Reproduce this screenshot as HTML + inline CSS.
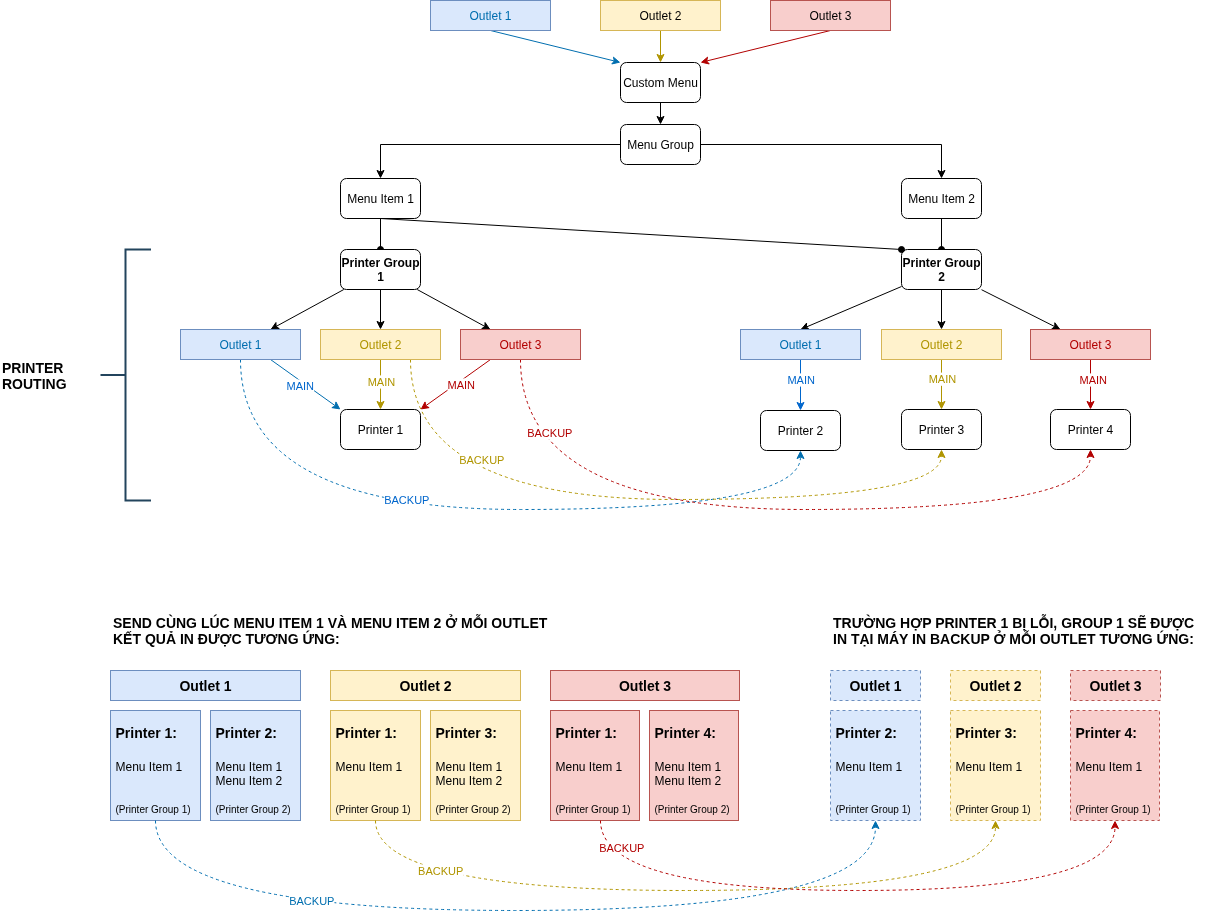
<!DOCTYPE html>
<html><head><meta charset="utf-8"><style>
html,body{margin:0;padding:0;background:#fff;width:1211px;height:912px;overflow:hidden}
svg{display:block;font-family:"Liberation Sans", sans-serif;will-change:transform}
</style></head><body>
<svg width="1211" height="912" viewBox="0 0 1211 912">
<path d="M490.50 30.50 L614.32 60.98" fill="none" stroke="#006EAF" stroke-width="1"/>
<path d="M619.41 62.23L611.78 63.96L614.32 60.98L613.45 57.16Z" fill="#006EAF" stroke="#006EAF" stroke-miterlimit="10"/>
<path d="M660.50 30.50 L660.50 56.13" fill="none" stroke="#B09500" stroke-width="1"/>
<path d="M660.50 61.38L657.00 54.38L660.50 56.13L664.00 54.38Z" fill="#B09500" stroke="#B09500" stroke-miterlimit="10"/>
<path d="M830.50 30.50 L706.68 60.98" fill="none" stroke="#B20000" stroke-width="1"/>
<path d="M701.59 62.23L707.55 57.16L706.68 60.98L709.22 63.96Z" fill="#B20000" stroke="#B20000" stroke-miterlimit="10"/>
<path d="M660.50 102.50 L660.50 118.13" fill="none" stroke="#000" stroke-width="1"/>
<path d="M660.50 123.38L657.00 116.38L660.50 118.13L664.00 116.38Z" fill="#000" stroke="#000" stroke-miterlimit="10"/>
<path d="M620.50 144.50 L380.50 144.50 L380.50 172.13" fill="none" stroke="#000" stroke-width="1"/>
<path d="M380.50 177.38L377.00 170.38L380.50 172.13L384.00 170.38Z" fill="#000" stroke="#000" stroke-miterlimit="10"/>
<path d="M700.50 144.50 L941.50 144.50 L941.50 172.13" fill="none" stroke="#000" stroke-width="1"/>
<path d="M941.50 177.38L938.00 170.38L941.50 172.13L945.00 170.38Z" fill="#000" stroke="#000" stroke-miterlimit="10"/>
<path d="M380.50 218.50 L380.50 249.50" fill="none" stroke="#000" stroke-width="1"/>
<circle cx="380.5" cy="249.5" r="3" fill="#000" stroke="#000"/>
<path d="M941.50 218.50 L941.50 249.50" fill="none" stroke="#000" stroke-width="1"/>
<circle cx="941.5" cy="249.5" r="3" fill="#000" stroke="#000"/>
<rect x="430.5" y="0.5" width="120" height="30" fill="#dae8fc" stroke="#6c8ebf"/>
<text x="490.5" y="19.8" font-size="12" fill="#006EAF" text-anchor="middle">Outlet 1</text>
<rect x="600.5" y="0.5" width="120" height="30" fill="#fff2cc" stroke="#d6b656"/>
<text x="660.5" y="19.8" font-size="12" fill="#000" text-anchor="middle">Outlet 2</text>
<rect x="770.5" y="0.5" width="120" height="30" fill="#f8cecc" stroke="#b85450"/>
<text x="830.5" y="19.8" font-size="12" fill="#000" text-anchor="middle">Outlet 3</text>
<rect x="620.5" y="62.5" width="80" height="40" rx="6" ry="6" fill="#fff" stroke="#000"/>
<text x="660.5" y="86.8" font-size="12" fill="#000" text-anchor="middle">Custom Menu</text>
<rect x="620.5" y="124.5" width="80" height="40" rx="6" ry="6" fill="#fff" stroke="#000"/>
<text x="660.5" y="148.8" font-size="12" fill="#000" text-anchor="middle">Menu Group</text>
<rect x="340.5" y="178.5" width="80" height="40" rx="6" ry="6" fill="#fff" stroke="#000"/>
<text x="380.5" y="202.8" font-size="12" fill="#000" text-anchor="middle">Menu Item 1</text>
<rect x="901.5" y="178.5" width="80" height="40" rx="6" ry="6" fill="#fff" stroke="#000"/>
<text x="941.5" y="202.8" font-size="12" fill="#000" text-anchor="middle">Menu Item 2</text>
<rect x="340.5" y="249.5" width="80" height="40" rx="6" ry="6" fill="#fff" stroke="#000"/>
<text x="380.5" y="266.8" font-size="12" font-weight="bold" fill="#000" text-anchor="middle">Printer Group</text>
<text x="380.5" y="281" font-size="12" font-weight="bold" fill="#000" text-anchor="middle">1</text>
<rect x="901.5" y="249.5" width="80" height="40" rx="6" ry="6" fill="#fff" stroke="#000"/>
<text x="941.5" y="266.8" font-size="12" font-weight="bold" fill="#000" text-anchor="middle">Printer Group</text>
<text x="941.5" y="281" font-size="12" font-weight="bold" fill="#000" text-anchor="middle">2</text>
<path d="M380.50 218.50 L901.50 249.50" fill="none" stroke="#000" stroke-width="1"/>
<circle cx="901.5" cy="249.5" r="3" fill="#000" stroke="#000"/>
<path d="M343.80 289.50 L276.09 326.45" fill="none" stroke="#000" stroke-width="1"/>
<path d="M271.48 328.96L275.95 322.54L276.09 326.45L279.30 328.68Z" fill="#000" stroke="#000" stroke-miterlimit="10"/>
<path d="M380.50 289.50 L380.50 323.13" fill="none" stroke="#000" stroke-width="1"/>
<path d="M380.50 328.38L377.00 321.38L380.50 323.13L384.00 321.38Z" fill="#000" stroke="#000" stroke-miterlimit="10"/>
<path d="M417.20 289.50 L484.91 326.45" fill="none" stroke="#000" stroke-width="1"/>
<path d="M489.52 328.96L481.70 328.68L484.91 326.45L485.05 322.54Z" fill="#000" stroke="#000" stroke-miterlimit="10"/>
<path d="M901.50 286.50 L806.36 327.01" fill="none" stroke="#000" stroke-width="1"/>
<path d="M801.53 329.06L806.60 323.10L806.36 327.01L809.34 329.54Z" fill="#000" stroke="#000" stroke-miterlimit="10"/>
<path d="M941.50 289.50 L941.50 323.13" fill="none" stroke="#000" stroke-width="1"/>
<path d="M941.50 328.38L938.00 321.38L941.50 323.13L945.00 321.38Z" fill="#000" stroke="#000" stroke-miterlimit="10"/>
<path d="M981.50 289.70 L1054.81 326.63" fill="none" stroke="#000" stroke-width="1"/>
<path d="M1059.50 329.00L1051.68 328.97L1054.81 326.63L1054.82 322.72Z" fill="#000" stroke="#000" stroke-miterlimit="10"/>
<path d="M240.5 359.5 Q240.5 509.5 520.5 509.5 Q800.5 509.5 800.50 456.87" fill="none" stroke="#006EAF" stroke-dasharray="3 3"/>
<path d="M800.50 451.62L804.00 458.62L800.50 456.87L797.00 458.62Z" fill="#006EAF" stroke="#006EAF" stroke-miterlimit="10"/>
<path d="M410.5 359.5 Q410.5 499.5 676.0 499.5 Q941.5 499.5 941.50 455.87" fill="none" stroke="#B09500" stroke-dasharray="3 3"/>
<path d="M941.50 450.62L945.00 457.62L941.50 455.87L938.00 457.62Z" fill="#B09500" stroke="#B09500" stroke-miterlimit="10"/>
<path d="M520.5 359.5 Q520.5 509.5 805.5 509.5 Q1090.5 509.5 1090.50 455.87" fill="none" stroke="#B20000" stroke-dasharray="3 3"/>
<path d="M1090.50 450.62L1094.00 457.62L1090.50 455.87L1087.00 457.62Z" fill="#B20000" stroke="#B20000" stroke-miterlimit="10"/>
<path d="M270.50 359.50 L335.32 405.80" fill="none" stroke="#006EAF" stroke-width="1"/>
<path d="M339.59 408.85L331.86 407.63L335.32 405.80L335.93 401.93Z" fill="#006EAF" stroke="#006EAF" stroke-miterlimit="10"/>
<path d="M380.50 359.50 L380.50 403.13" fill="none" stroke="#B09500" stroke-width="1"/>
<path d="M380.50 408.38L377.00 401.38L380.50 403.13L384.00 401.38Z" fill="#B09500" stroke="#B09500" stroke-miterlimit="10"/>
<path d="M490.50 359.50 L425.68 405.80" fill="none" stroke="#B20000" stroke-width="1"/>
<path d="M421.41 408.85L425.07 401.93L425.68 405.80L429.14 407.63Z" fill="#B20000" stroke="#B20000" stroke-miterlimit="10"/>
<path d="M800.50 359.50 L800.50 404.13" fill="none" stroke="#0066CC" stroke-width="1"/>
<path d="M800.50 409.38L797.00 402.38L800.50 404.13L804.00 402.38Z" fill="#0066CC" stroke="#0066CC" stroke-miterlimit="10"/>
<path d="M941.50 359.50 L941.50 403.13" fill="none" stroke="#B09500" stroke-width="1"/>
<path d="M941.50 408.38L938.00 401.38L941.50 403.13L945.00 401.38Z" fill="#B09500" stroke="#B09500" stroke-miterlimit="10"/>
<path d="M1090.50 359.50 L1090.50 403.13" fill="none" stroke="#B20000" stroke-width="1"/>
<path d="M1090.50 408.38L1087.00 401.38L1090.50 403.13L1094.00 401.38Z" fill="#B20000" stroke="#B20000" stroke-miterlimit="10"/>
<rect x="180.5" y="329.5" width="120" height="30" fill="#dae8fc" stroke="#6c8ebf"/>
<text x="240.5" y="348.8" font-size="12" fill="#006EAF" text-anchor="middle">Outlet 1</text>
<rect x="320.5" y="329.5" width="120" height="30" fill="#fff2cc" stroke="#d6b656"/>
<text x="380.5" y="348.8" font-size="12" fill="#B09500" text-anchor="middle">Outlet 2</text>
<rect x="460.5" y="329.5" width="120" height="30" fill="#f8cecc" stroke="#b85450"/>
<text x="520.5" y="348.8" font-size="12" fill="#B20000" text-anchor="middle">Outlet 3</text>
<rect x="740.5" y="329.5" width="120" height="30" fill="#dae8fc" stroke="#6c8ebf"/>
<text x="800.5" y="348.8" font-size="12" fill="#006EAF" text-anchor="middle">Outlet 1</text>
<rect x="881.5" y="329.5" width="120" height="30" fill="#fff2cc" stroke="#d6b656"/>
<text x="941.5" y="348.8" font-size="12" fill="#B09500" text-anchor="middle">Outlet 2</text>
<rect x="1030.5" y="329.5" width="120" height="30" fill="#f8cecc" stroke="#b85450"/>
<text x="1090.5" y="348.8" font-size="12" fill="#B20000" text-anchor="middle">Outlet 3</text>
<rect x="340.5" y="409.5" width="80" height="40" rx="6" ry="6" fill="#fff" stroke="#000"/>
<text x="380.5" y="433.8" font-size="12" fill="#000" text-anchor="middle">Printer 1</text>
<rect x="760.5" y="410.5" width="80" height="40" rx="6" ry="6" fill="#fff" stroke="#000"/>
<text x="800.5" y="434.8" font-size="12" fill="#000" text-anchor="middle">Printer 2</text>
<rect x="901.5" y="409.5" width="80" height="40" rx="6" ry="6" fill="#fff" stroke="#000"/>
<text x="941.5" y="433.8" font-size="12" fill="#000" text-anchor="middle">Printer 3</text>
<rect x="1050.5" y="409.5" width="80" height="40" rx="6" ry="6" fill="#fff" stroke="#000"/>
<text x="1090.5" y="433.8" font-size="12" fill="#000" text-anchor="middle">Printer 4</text>
<rect x="286.55" y="379.40" width="27.50" height="13.2" fill="#fff"/>
<text x="300.3" y="389.8" font-size="11" fill="#0066CC" text-anchor="middle">MAIN</text>
<rect x="367.65" y="375.40" width="27.50" height="13.2" fill="#fff"/>
<text x="381.4" y="385.8" font-size="11" fill="#B09500" text-anchor="middle">MAIN</text>
<rect x="447.55" y="378.40" width="27.50" height="13.2" fill="#fff"/>
<text x="461.3" y="388.8" font-size="11" fill="#B20000" text-anchor="middle">MAIN</text>
<rect x="787.45" y="373.40" width="27.50" height="13.2" fill="#fff"/>
<text x="801.2" y="383.8" font-size="11" fill="#0066CC" text-anchor="middle">MAIN</text>
<rect x="928.65" y="372.60" width="27.50" height="13.2" fill="#fff"/>
<text x="942.4" y="383" font-size="11" fill="#B09500" text-anchor="middle">MAIN</text>
<rect x="1079.55" y="373.40" width="27.50" height="13.2" fill="#fff"/>
<text x="1093.3" y="383.8" font-size="11" fill="#B20000" text-anchor="middle">MAIN</text>
<rect x="384.20" y="493.50" width="45.20" height="13.2" fill="#fff"/>
<text x="406.8" y="503.9" font-size="11" fill="#0066CC" text-anchor="middle">BACKUP</text>
<rect x="459.20" y="453.50" width="45.20" height="13.2" fill="#fff"/>
<text x="481.8" y="463.9" font-size="11" fill="#B09500" text-anchor="middle">BACKUP</text>
<rect x="527.20" y="426.40" width="45.20" height="13.2" fill="#fff"/>
<text x="549.8" y="436.8" font-size="11" fill="#B20000" text-anchor="middle">BACKUP</text>
<path d="M151 249.5 L125.5 249.5 L125.5 500.5 L151 500.5 M100.5 375 L125.5 375" fill="none" stroke="#23445d" stroke-width="2"/>
<text x="2" y="372.7" font-size="14" font-weight="bold" fill="#000" text-anchor="start">PRINTER</text>
<text x="2" y="388.5" font-size="14" font-weight="bold" fill="#000" text-anchor="start">ROUTING</text>
<text x="113" y="627.7" font-size="14" font-weight="bold" fill="#000" text-anchor="start">SEND CÙNG LÚC MENU ITEM 1 VÀ MENU ITEM 2 Ở MỖI OUTLET</text>
<text x="113" y="643.7" font-size="14" font-weight="bold" fill="#000" text-anchor="start">KẾT QUẢ IN ĐƯỢC TƯƠNG ỨNG:</text>
<text x="833" y="627.7" font-size="14" font-weight="bold" fill="#000" text-anchor="start">TRƯỜNG HỢP PRINTER 1 BỊ LỖI, GROUP 1 SẼ ĐƯỢC</text>
<text x="833" y="643.7" font-size="14" font-weight="bold" fill="#000" text-anchor="start">IN TẠI MÁY IN BACKUP Ở MỖI OUTLET TƯƠNG ỨNG:</text>
<rect x="110.5" y="670.5" width="190" height="30" fill="#dae8fc" stroke="#6c8ebf"/>
<text x="205.5" y="690.7" font-size="14" font-weight="bold" fill="#000" text-anchor="middle">Outlet 1</text>
<rect x="110.5" y="710.5" width="90" height="110" fill="#dae8fc" stroke="#6c8ebf"/>
<text x="115.5" y="738" font-size="14" font-weight="bold" fill="#000" text-anchor="start">Printer 1:</text>
<text x="115.5" y="770.8" font-size="12" fill="#000" text-anchor="start">Menu Item 1</text>
<text x="115.5" y="812.6" font-size="10" fill="#000" text-anchor="start">(Printer Group 1)</text>
<rect x="210.5" y="710.5" width="90" height="110" fill="#dae8fc" stroke="#6c8ebf"/>
<text x="215.5" y="738" font-size="14" font-weight="bold" fill="#000" text-anchor="start">Printer 2:</text>
<text x="215.5" y="770.8" font-size="12" fill="#000" text-anchor="start">Menu Item 1</text>
<text x="215.5" y="784.7" font-size="12" fill="#000" text-anchor="start">Menu Item 2</text>
<text x="215.5" y="812.6" font-size="10" fill="#000" text-anchor="start">(Printer Group 2)</text>
<rect x="330.5" y="670.5" width="190" height="30" fill="#fff2cc" stroke="#d6b656"/>
<text x="425.5" y="690.7" font-size="14" font-weight="bold" fill="#000" text-anchor="middle">Outlet 2</text>
<rect x="330.5" y="710.5" width="90" height="110" fill="#fff2cc" stroke="#d6b656"/>
<text x="335.5" y="738" font-size="14" font-weight="bold" fill="#000" text-anchor="start">Printer 1:</text>
<text x="335.5" y="770.8" font-size="12" fill="#000" text-anchor="start">Menu Item 1</text>
<text x="335.5" y="812.6" font-size="10" fill="#000" text-anchor="start">(Printer Group 1)</text>
<rect x="430.5" y="710.5" width="90" height="110" fill="#fff2cc" stroke="#d6b656"/>
<text x="435.5" y="738" font-size="14" font-weight="bold" fill="#000" text-anchor="start">Printer 3:</text>
<text x="435.5" y="770.8" font-size="12" fill="#000" text-anchor="start">Menu Item 1</text>
<text x="435.5" y="784.7" font-size="12" fill="#000" text-anchor="start">Menu Item 2</text>
<text x="435.5" y="812.6" font-size="10" fill="#000" text-anchor="start">(Printer Group 2)</text>
<rect x="550.5" y="670.5" width="189" height="30" fill="#f8cecc" stroke="#b85450"/>
<text x="645.0" y="690.7" font-size="14" font-weight="bold" fill="#000" text-anchor="middle">Outlet 3</text>
<rect x="550.5" y="710.5" width="89" height="110" fill="#f8cecc" stroke="#b85450"/>
<text x="555.5" y="738" font-size="14" font-weight="bold" fill="#000" text-anchor="start">Printer 1:</text>
<text x="555.5" y="770.8" font-size="12" fill="#000" text-anchor="start">Menu Item 1</text>
<text x="555.5" y="812.6" font-size="10" fill="#000" text-anchor="start">(Printer Group 1)</text>
<rect x="649.5" y="710.5" width="89" height="110" fill="#f8cecc" stroke="#b85450"/>
<text x="654.5" y="738" font-size="14" font-weight="bold" fill="#000" text-anchor="start">Printer 4:</text>
<text x="654.5" y="770.8" font-size="12" fill="#000" text-anchor="start">Menu Item 1</text>
<text x="654.5" y="784.7" font-size="12" fill="#000" text-anchor="start">Menu Item 2</text>
<text x="654.5" y="812.6" font-size="10" fill="#000" text-anchor="start">(Printer Group 2)</text>
<rect x="830.5" y="670.5" width="90" height="30" fill="#dae8fc" stroke="#6c8ebf" stroke-dasharray="3 3"/>
<text x="875.5" y="690.7" font-size="14" font-weight="bold" fill="#000" text-anchor="middle">Outlet 1</text>
<rect x="830.5" y="710.5" width="90" height="110" fill="#dae8fc" stroke="#6c8ebf" stroke-dasharray="3 3"/>
<text x="835.5" y="738" font-size="14" font-weight="bold" fill="#000" text-anchor="start">Printer 2:</text>
<text x="835.5" y="770.8" font-size="12" fill="#000" text-anchor="start">Menu Item 1</text>
<text x="835.5" y="812.6" font-size="10" fill="#000" text-anchor="start">(Printer Group 1)</text>
<rect x="950.5" y="670.5" width="90" height="30" fill="#fff2cc" stroke="#d6b656" stroke-dasharray="3 3"/>
<text x="995.5" y="690.7" font-size="14" font-weight="bold" fill="#000" text-anchor="middle">Outlet 2</text>
<rect x="950.5" y="710.5" width="90" height="110" fill="#fff2cc" stroke="#d6b656" stroke-dasharray="3 3"/>
<text x="955.5" y="738" font-size="14" font-weight="bold" fill="#000" text-anchor="start">Printer 3:</text>
<text x="955.5" y="770.8" font-size="12" fill="#000" text-anchor="start">Menu Item 1</text>
<text x="955.5" y="812.6" font-size="10" fill="#000" text-anchor="start">(Printer Group 1)</text>
<rect x="1070.5" y="670.5" width="90" height="30" fill="#f8cecc" stroke="#b85450" stroke-dasharray="3 3"/>
<text x="1115.5" y="690.7" font-size="14" font-weight="bold" fill="#000" text-anchor="middle">Outlet 3</text>
<rect x="1070.5" y="710.5" width="89" height="110" fill="#f8cecc" stroke="#b85450" stroke-dasharray="3 3"/>
<text x="1075.5" y="738" font-size="14" font-weight="bold" fill="#000" text-anchor="start">Printer 4:</text>
<text x="1075.5" y="770.8" font-size="12" fill="#000" text-anchor="start">Menu Item 1</text>
<text x="1075.5" y="812.6" font-size="10" fill="#000" text-anchor="start">(Printer Group 1)</text>
<path d="M155.5 820.5 Q155.5 910.5 515.5 910.5 Q875.5 910.5 875.50 826.87" fill="none" stroke="#006EAF" stroke-dasharray="3 3"/>
<path d="M875.50 821.62L879.00 828.62L875.50 826.87L872.00 828.62Z" fill="#006EAF" stroke="#006EAF" stroke-miterlimit="10"/>
<path d="M375.5 820.5 Q375.5 890.5 685.5 890.5 Q995.5 890.5 995.50 826.87" fill="none" stroke="#B09500" stroke-dasharray="3 3"/>
<path d="M995.50 821.62L999.00 828.62L995.50 826.87L992.00 828.62Z" fill="#B09500" stroke="#B09500" stroke-miterlimit="10"/>
<path d="M600.5 820.5 Q600.5 890.5 857.75 890.5 Q1115 890.5 1115.00 826.87" fill="none" stroke="#B20000" stroke-dasharray="3 3"/>
<path d="M1115.00 821.62L1118.50 828.62L1115.00 826.87L1111.50 828.62Z" fill="#B20000" stroke="#B20000" stroke-miterlimit="10"/>
<rect x="289.20" y="894.50" width="45.20" height="13.2" fill="#fff"/>
<text x="311.8" y="904.9" font-size="11" fill="#006EAF" text-anchor="middle">BACKUP</text>
<rect x="418.10" y="864.50" width="45.20" height="13.2" fill="#fff"/>
<text x="440.7" y="874.9" font-size="11" fill="#B09500" text-anchor="middle">BACKUP</text>
<rect x="599.20" y="841.50" width="45.20" height="13.2" fill="#fff"/>
<text x="621.8" y="851.9" font-size="11" fill="#B20000" text-anchor="middle">BACKUP</text>
</svg></body></html>
